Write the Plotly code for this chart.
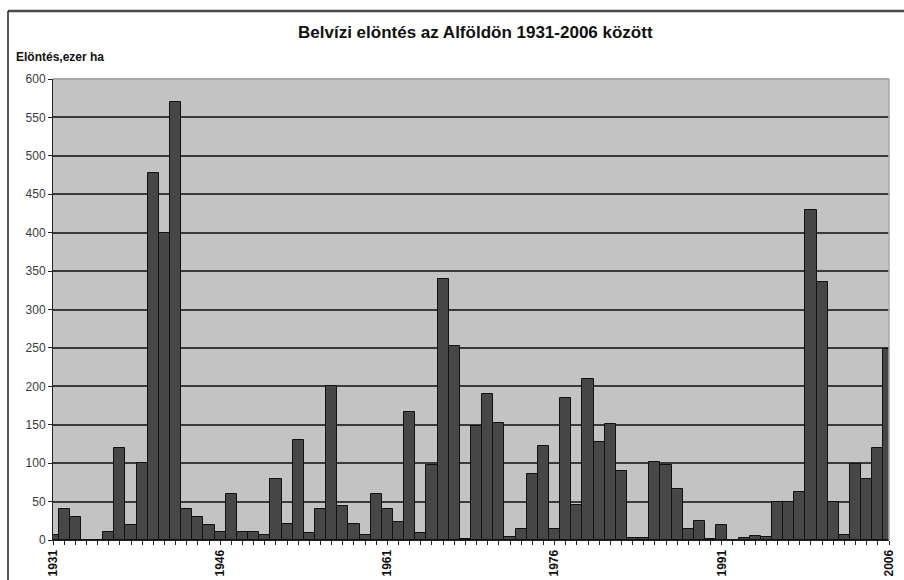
import plotly.graph_objects as go

years = list(range(1931, 2007))
flooded = [6, 40, 30, 0, 0, 10, 120, 19, 100, 478,
           400, 570, 40, 30, 19, 10, 60, 10, 10, 6,
           80, 21, 130, 9, 40, 200, 44, 21, 7, 60,
           40, 23, 166, 9, 97, 340, 252, 1, 148, 190,
           152, 4, 14, 86, 123, 14, 185, 45, 210, 128,
           151, 90, 3, 2, 101, 97, 66, 14, 25, 1,
           20, 0, 2, 5, 4, 49, 49, 62, 430, 336,
           49, 6, 99, 80, 120, 248]
label_years = [1931, 1946, 1961, 1976, 1991, 2006]

L, R, T, B = 53, 889, 79, 540
PW, PH = R - L, B - T


def px(x):
    return (x - L) / PW


def py(y):
    return (B - y) / PH


fig = go.Figure()
fig.add_trace(go.Bar(
    x=years, y=flooded, width=1,
    marker=dict(color="#474747", line=dict(color="#111111", width=1)),
))

fig.update_layout(
    width=904, height=580,
    margin=dict(l=L, r=904 - R, t=T, b=580 - B, autoexpand=False),
    paper_bgcolor="white", plot_bgcolor="#c3c3c3",
    showlegend=False, bargap=0,
    font=dict(family="Liberation Sans, Arial, sans-serif", color="#222"),
)
fig.update_xaxes(
    automargin=False,
    range=[1931, 2006], tickmode="array", tickvals=label_years,
    ticktext=[str(y) for y in label_years], tickangle=-90,
    tickfont=dict(size=12, color="#111", family="Liberation Sans, Arial, sans-serif", weight="bold"),
    ticks="outside", ticklen=4, tickcolor="#222", tickwidth=1,
    minor=dict(dtick=1, tick0=1931, ticks="outside", ticklen=4, tickcolor="#222", showgrid=False),
    showgrid=False, showline=True, linecolor="#222", linewidth=1, zeroline=False,
)
fig.update_yaxes(
    automargin=False,
    range=[0, 600], tickvals=list(range(0, 601, 50)),
    tickfont=dict(size=12, color="#3a3a3a"),
    ticks="outside", ticklen=4, tickcolor="#222",
    showgrid=True, gridcolor="#3a3a3a", gridwidth=1.5,
    showline=True, linecolor="#222", linewidth=1, zeroline=False,
)
# plot frame top/right in light gray
fig.add_shape(type="line", xref="paper", yref="paper", x0=0, x1=1, y0=1, y1=1,
              line=dict(color="#a8a8a8", width=2))
fig.add_shape(type="line", xref="paper", yref="paper", x0=1, x1=1, y0=0, y1=1,
              line=dict(color="#a8a8a8", width=1.5))
# outer chart border (top & left)
fig.add_shape(type="line", xref="paper", yref="paper",
              x0=px(8), x1=px(904), y0=py(11), y1=py(11),
              line=dict(color="#4a4a4a", width=2.5))
fig.add_shape(type="line", xref="paper", yref="paper",
              x0=px(8), x1=px(8), y0=py(11), y1=py(585),
              line=dict(color="#222", width=1.5))

fig.add_annotation(text="<b>Belvízi elöntés az Alföldön 1931-2006 között</b>",
                   xref="paper", yref="paper", x=px(476), y=py(32),
                   showarrow=False, xanchor="center", yanchor="middle",
                   font=dict(size=17, color="#111"))
fig.add_annotation(text="<b>Elöntés,ezer ha</b>",
                   xref="paper", yref="paper", x=px(14), y=py(57),
                   showarrow=False, xanchor="left", yanchor="middle",
                   font=dict(size=12, color="#111"))

fig.write_html("out.html")
